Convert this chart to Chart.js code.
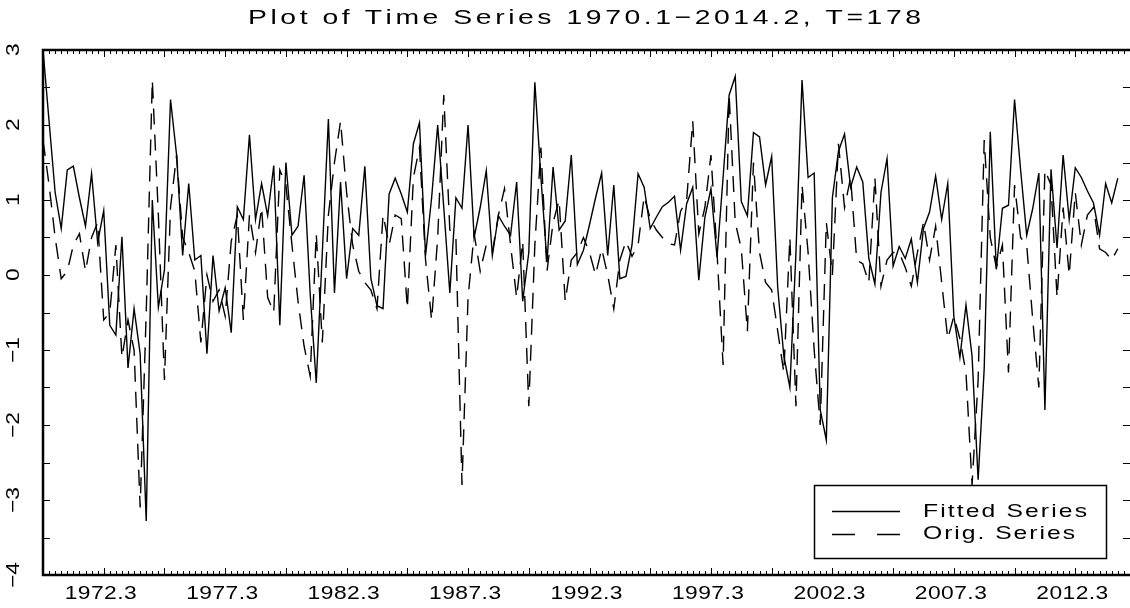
<!DOCTYPE html>
<html>
<head>
<meta charset="utf-8">
<title>Plot of Time Series 1970.1-2014.2</title>
<script src="https://cdn.jsdelivr.net/npm/chart.js@4.4.1/dist/chart.umd.min.js"></script>
<style>
  html, body { margin: 0; padding: 0; background: #fff; overflow: hidden; }
  canvas { display: block; }
</style>
</head>
<body>
<canvas id="tsChart" width="1140" height="608"></canvas>
<script>
// quarterly values, 1970.1 .. 2014.2 (T = 178)
const fittedSeries = [
  3.0, 2.05, 1.1, 0.62, 1.40, 1.45, 1.03, 0.65, 1.35, 0.43, 0.86, -0.67, -0.80, 0.51, -1.24, -0.45, -1.05, -3.28, 1.0, -0.43,
  0.07, 2.34, 1.6, 0.26, 1.22, 0.2, 0.26, -1.05, 0.26, -0.48, -0.17, -0.77, 0.91, 0.74, 1.87, 0.74, 1.22, 0.79, 1.46, -0.67,
  1.5, 0.53, 0.65, 1.33, -0.25, -1.44, 0.3, 2.08, -0.24, 1.24, -0.05, 0.62, 0.53, 1.45, -0.05, -0.41, -0.45, 1.08, 1.29, 1.08,
  0.84, 1.75, 2.03, 0.26, 1.03, 2.0, 0.9, -0.24, 1.03, 0.89, 2.0, 0.5, 0.9, 1.39, 0.26, 0.79, 0.65, 0.53, 1.24, -0.35,
  0.3, 2.57, 1.3, 0.17, 1.44, 0.6, 0.72, 1.6, 0.14, 0.33, 0.67, 1.03, 1.36, 0.26, 1.2, -0.05, -0.02, 0.4, 1.35, 1.17,
  0.62, 0.77, 0.91, 0.97, 1.05, 0.33, 0.95, 1.17, -0.07, 0.77, 1.15, 0.24, 1.3, 2.4, 2.65, 0.98, 0.79, 1.9, 1.84, 1.2,
  1.58, -0.17, -1.08, -1.5, 0.3, 2.6, 1.3, 1.36, -1.8, -2.2, 1.03, 1.65, 1.88, 1.17, 1.44, 1.24, 0.22, -0.12, 1.1, 1.55,
  0.12, 0.38, 0.22, 0.48, -0.1, 0.62, 0.84, 1.32, 0.74, 1.22, -0.55, -1.1, -0.4, -1.08, -2.73, -1.25, 1.91, 0.08, 0.89, 0.93,
  2.34, 1.4, 0.53, 0.89, 1.36, -1.8, 1.41, 0.36, 1.6, 0.74, 1.43, 1.3, 1.12, 0.96, 0.53, 1.22, 0.96, 1.29
];
const origSeries = [
  1.8, 1.2, 0.5, -0.05, 0.05, 0.4, 0.55, 0.05, 0.5, 0.7, -0.6, -0.5, 0.4, -1.1, -0.6, -1.0, -3.1, -0.5, 2.6, 0.8,
  -1.4, 0.9, 1.6, 0.5, 0.3, 0.05, -0.9, 0.0, -0.35, -0.2, -0.55, 0.45, 0.8, -0.6, 0.8, 0.3, 0.9, -0.3, -0.5, 1.4,
  1.2, 0.4, -0.35, -0.95, -1.35, 0.55, -0.9, 0.8, 1.5, 2.05, 1.1, 0.4, 0.05, -0.1, -0.2, -0.45, 0.8, 0.4, 0.8, 0.75,
  -0.45, 1.3, 1.7, 0.2, -0.6, 0.5, 2.4, 0.6, 0.5, -2.8, -0.3, 0.55, 0.05, 0.4, 0.3, 0.8, 1.15, 0.4, -0.3, 0.45,
  -1.75, 0.4, 1.7, 0.05, 0.7, 1.0, -0.35, 0.2, 0.3, 0.5, 0.3, 0.0, 0.35, 0.0, -0.45, 0.2, 0.45, 0.25, 0.4, 1.05,
  0.75, 0.6, 0.5, 0.42, 0.4, 0.85, 1.0, 2.05, 0.55, 0.9, 1.6, 0.3, -1.2, 2.4, 0.7, 0.35, -0.75, 1.5, 0.3, -0.1,
  -0.2, -0.75, -1.3, 0.5, -1.75, 1.2, 0.3, -1.0, -2.0, 0.7, 0.0, 1.75, 0.9, 1.3, 0.2, 0.15, -0.1, 1.3, -0.15, 0.2,
  0.3, 0.3, 0.1, -0.15, 0.3, 0.7, 0.2, 0.65, -0.1, -0.85, -0.55, -0.85, -1.3, -2.8, -1.4, 1.8, 0.5, 0.1, 0.4, -1.3,
  1.2, 0.5, 0.4, -0.6, -1.5, 1.4, 1.2, -0.3, 0.9, 0.0, 1.1, 0.4, 0.8, 0.9, 0.35, 0.3, 0.2, 0.35
];
const xTickLabels = ["1972.3", "1977.3", "1982.3", "1987.3", "1992.3", "1997.3", "2002.3", "2007.3", "2012.3"];
const xTickPositions = [10, 30, 50, 70, 90, 110, 130, 150, 170];
const yTickValues = [3, 2, 1, 0, -1, -2, -3, -4];
const yTickLabels = ["3", "2", "1", "0", "\u22121", "\u22122", "\u22123", "\u22124"];
const legendLabels = ["Fitted Series", "Orig. Series"];
const chartTitle = "Plot of Time Series 1970.1\u22122014.2, T=178";

const FONT = "'Liberation Sans', Arial, sans-serif";

function toPoints(values) {
    return values.map((v, i) => ({ x: i, y: v }));
}

// draws wide, evenly spaced text that fills the given width
function drawSpaced(ctx, text, left, cy, width, stretch) {
    const chars = Array.from(text);
    const widths = chars.map(c => ctx.measureText(c).width * stretch);
    const sum = widths.reduce((a, b) => a + b, 0);
    const gap = chars.length > 1 ? (width - sum) / (chars.length - 1) : 0;
    let x = left;
    ctx.textAlign = "left";
    ctx.textBaseline = "middle";
    chars.forEach((c, i) => {
        ctx.save();
        ctx.translate(x, cy);
        ctx.scale(stretch, 1);
        ctx.fillText(c, 0, 0);
        ctx.restore();
        x += widths[i] + gap;
    });
}

const framePlugin = {
    id: "gaussFrame",
    afterDraw(chart) {
        const ctx = chart.ctx;
        const area = chart.chartArea;
        const xs = chart.scales.x;
        const ys = chart.scales.y;
        ctx.save();
        ctx.strokeStyle = "#000";
        ctx.fillStyle = "#000";
        ctx.setLineDash([]);

        // frame: top, left, bottom
        ctx.lineWidth = 2.5;
        ctx.beginPath();
        ctx.moveTo(area.right, area.top);
        ctx.lineTo(area.left, area.top);
        ctx.lineTo(area.left, area.bottom);
        ctx.lineTo(area.right, area.bottom);
        ctx.stroke();

        // quarter ticks on top and bottom
        ctx.lineWidth = 1;
        ctx.beginPath();
        for (let q = 0; q <= xs.max; q++) {
            const px = Math.round(xs.getPixelForValue(q)) + 0.5;
            const len = q % 10 === 0 ? 7 : 4;
            ctx.moveTo(px, area.top);
            ctx.lineTo(px, area.top + len);
            ctx.moveTo(px, area.bottom);
            ctx.lineTo(px, area.bottom - len);
        }
        ctx.stroke();

        // value ticks on left and right
        ctx.beginPath();
        for (let v = ys.min; v <= ys.max; v += 0.5) {
            const py = Math.round(ys.getPixelForValue(v)) + 0.5;
            ctx.moveTo(area.left, py);
            ctx.lineTo(area.left + 7, py);
            ctx.moveTo(area.right, py);
            ctx.lineTo(area.right - 13, py);
        }
        ctx.stroke();

        // y labels, rotated
        ctx.font = "19px " + FONT;
        yTickValues.forEach((v, k) => {
            const py = ys.getPixelForValue(v);
            const label = yTickLabels[k];
            const w = label.length > 1 ? 26 : 12;
            ctx.save();
            ctx.translate(14, py);
            ctx.rotate(-Math.PI / 2);
            drawSpaced(ctx, label, -w / 2, 0, w, 1.2);
            ctx.restore();
        });

        // x labels
        ctx.font = "19px " + FONT;
        xTickLabels.forEach((label, k) => {
            const px = xs.getPixelForValue(xTickPositions[k]);
            drawSpaced(ctx, label, px - 39, 594, 72, 1.2);
        });

        // title
        ctx.font = "21px " + FONT;
        drawSpaced(ctx, chartTitle, 248, 18, 673, 1.35);

        // legend box
        ctx.lineWidth = 1.5;
        ctx.strokeRect(814.5, 485.5, 292, 73);
        ctx.beginPath();
        ctx.moveTo(832, 511.5);
        ctx.lineTo(900, 511.5);
        ctx.stroke();
        ctx.setLineDash([23, 22]);
        ctx.beginPath();
        ctx.moveTo(832, 534.5);
        ctx.lineTo(900, 534.5);
        ctx.stroke();
        ctx.setLineDash([]);
        ctx.font = "19px " + FONT;
        drawSpaced(ctx, legendLabels[0], 923, 512, 164, 1.3);
        drawSpaced(ctx, legendLabels[1], 923, 534, 152, 1.3);
        ctx.restore();
    }
};

const chart = new Chart(document.getElementById("tsChart"), {
    type: "line",
    data: {
        datasets: [
            {
                label: legendLabels[0],
                data: toPoints(fittedSeries),
                borderColor: "#000",
                borderWidth: 1.4,
                pointRadius: 0,
                tension: 0
            },
            {
                label: legendLabels[1],
                data: toPoints(origSeries),
                borderColor: "#000",
                borderWidth: 1.4,
                borderDash: [16, 10],
                pointRadius: 0,
                tension: 0
            }
        ]
    },
    options: {
        responsive: false,
        animation: false,
        devicePixelRatio: 1,
        layout: { padding: { left: 43, top: 50, right: 4, bottom: 33 } },
        plugins: {
            legend: { display: false },
            title: { display: false },
            tooltip: { enabled: false }
        },
        scales: {
            x: { type: "linear", min: 0, max: 180, display: false },
            y: { type: "linear", min: -4, max: 3, display: false }
        }
    },
    plugins: [framePlugin]
});
</script>
</body>
</html>
